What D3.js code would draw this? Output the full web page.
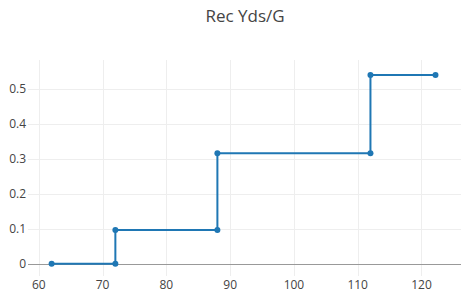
<!DOCTYPE html>
<meta charset="utf-8">
<style>
  body { margin: 0; background: #fff; }
  text { font-family: "Open Sans", sans-serif; }
</style>
<div id="container"></div>
<script src="https://cdn.jsdelivr.net/npm/d3@7"></script>
<script>
// step points, corners included
const recYds = [62, 72, 72, 88, 88, 112, 112, 122.2];
const share  = [0, 0, 0.097, 0.097, 0.317, 0.317, 0.541, 0.541];
const xTicks = [60, 70, 80, 90, 100, 110, 120];
const yTicks = [0, 0.1, 0.2, 0.3, 0.4, 0.5];

const width = 467, height = 300;
const plotLeft = 28, plotRight = 461, plotTop = 60, plotBottom = 276;

const x = d3.scaleLinear().domain([58.3, 126.2]).range([plotLeft, plotRight]);
const y = d3.scaleLinear().domain([-0.035, 0.584]).range([plotBottom, plotTop]);

const svg = d3.select("#container").append("svg")
    .attr("width", width)
    .attr("height", height);

// grid
svg.append("g").selectAll("line").data(xTicks).enter().append("line")
    .attr("x1", d => Math.round(x(d)) + 0.5).attr("x2", d => Math.round(x(d)) + 0.5)
    .attr("y1", plotTop).attr("y2", plotBottom)
    .attr("stroke", "#eee");
svg.append("g").selectAll("line").data(yTicks.filter(d => d !== 0)).enter().append("line")
    .attr("x1", plotLeft).attr("x2", plotRight)
    .attr("y1", d => Math.round(y(d)) + 0.5).attr("y2", d => Math.round(y(d)) + 0.5)
    .attr("stroke", "#eee");

// zero line
svg.append("line")
    .attr("x1", plotLeft).attr("x2", plotRight)
    .attr("y1", Math.round(y(0)) + 0.5).attr("y2", Math.round(y(0)) + 0.5)
    .attr("stroke", "#999");

// tick labels
svg.append("g").selectAll("text").data(xTicks).enter().append("text")
    .attr("x", d => x(d)).attr("y", 289)
    .attr("text-anchor", "middle")
    .attr("font-size", 12).attr("fill", "#444")
    .text(d => d);
svg.append("g").selectAll("text").data(yTicks).enter().append("text")
    .attr("x", plotLeft - 2).attr("y", d => y(d) + 4)
    .attr("text-anchor", "end")
    .attr("font-size", 12).attr("fill", "#444")
    .text(d => d);

// step line + markers
const pts = d3.zip(recYds, share);
svg.append("path")
    .datum(pts)
    .attr("fill", "none")
    .attr("stroke", "#1f77b4")
    .attr("stroke-width", 2)
    .attr("d", d3.line().x(d => x(d[0])).y(d => y(d[1])));
svg.append("g").selectAll("circle").data(pts).enter().append("circle")
    .attr("cx", d => x(d[0])).attr("cy", d => y(d[1]))
    .attr("r", 3)
    .attr("fill", "#1f77b4");

// title
svg.append("text")
    .attr("x", 245).attr("y", 22)
    .attr("text-anchor", "middle")
    .attr("font-size", 17).attr("fill", "#444")
    .text("Rec Yds/G");
</script>
